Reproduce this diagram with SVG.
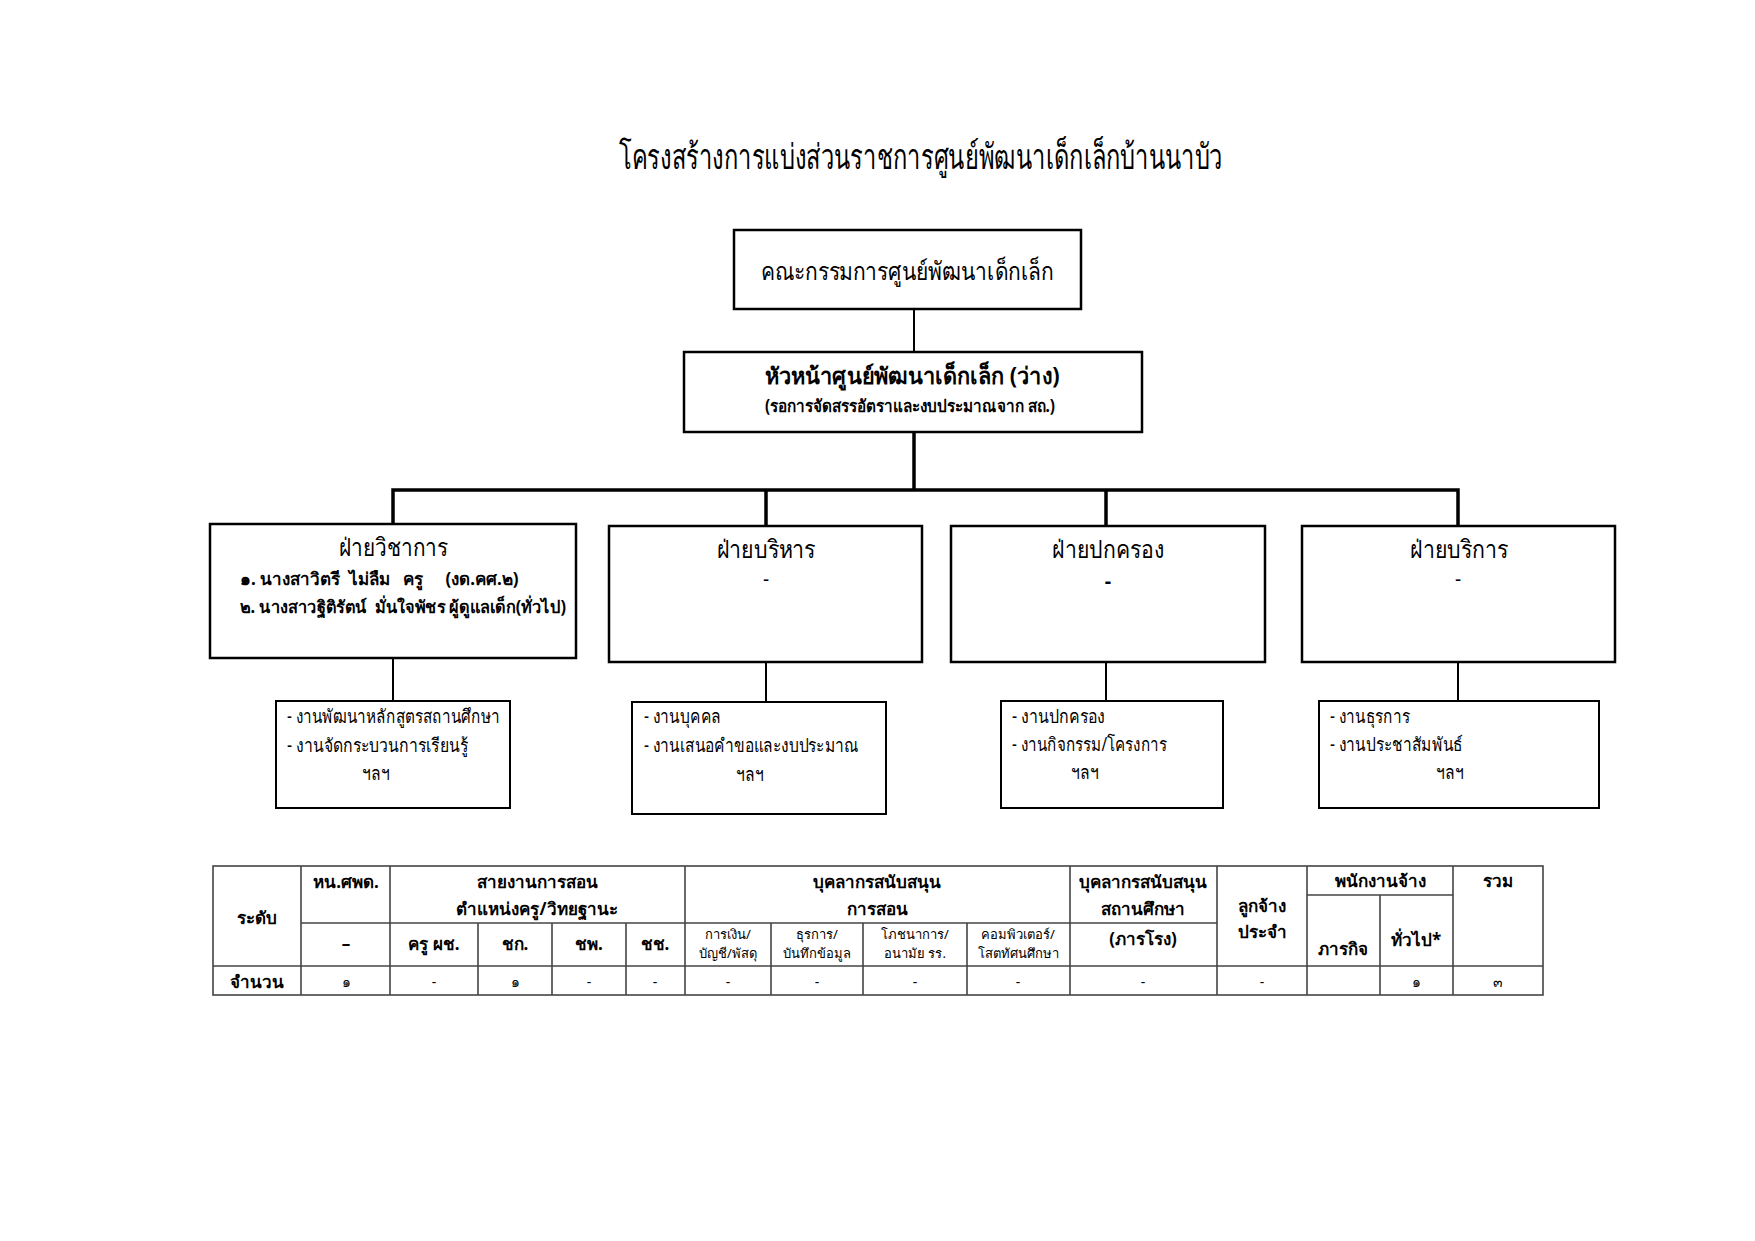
<svg xmlns="http://www.w3.org/2000/svg" width="1755" height="1241" viewBox="0 0 1755 1241">
<style>
text{font-family:"Noto Sans","DejaVu Sans",sans-serif;fill:#000}
.title{font-size:35px}
.h{font-size:25px}
.hb{font-size:23px;font-weight:bold}
.sb{font-size:17px;font-weight:bold}
.r{font-size:19px}
.t{font-size:17px;font-weight:bold}
.ts{font-size:13px}
.tn{font-size:14px}
.box{fill:#fff;stroke:#000;stroke-width:2.5}
.sub{fill:#fff;stroke:#000;stroke-width:2}
.con{stroke:#000;stroke-width:2;fill:none}
.bus{stroke:#000;stroke-width:3.5;fill:none}
.grid{stroke:#444;stroke-width:1.6;fill:none}
</style>
<rect width="1755" height="1241" fill="#fff"/>
<text class="title" x="921" y="169" text-anchor="middle" textLength="604" lengthAdjust="spacingAndGlyphs">โครงสร้างการแบ่งส่วนราชการศูนย์พัฒนาเด็กเล็กบ้านนาบัว</text>
<g id="connectors">
<line class="con" x1="914" y1="309" x2="914" y2="352"/>
<line class="bus" x1="914" y1="432" x2="914" y2="490"/>
<polyline class="bus" points="393,524 393,490 1458,490 1458,526"/>
<line class="bus" x1="766" y1="490" x2="766" y2="526"/>
<line class="bus" x1="1106" y1="490" x2="1106" y2="526"/>
<line class="con" x1="393" y1="658" x2="393" y2="701"/>
<line class="con" x1="766" y1="662" x2="766" y2="702"/>
<line class="con" x1="1106" y1="662" x2="1106" y2="701"/>
<line class="con" x1="1458" y1="662" x2="1458" y2="701"/>
</g>
<g id="committee">
<rect class="box" x="734" y="230" width="347" height="79"/>
<text class="h" x="907" y="280" text-anchor="middle" textLength="293" lengthAdjust="spacingAndGlyphs">คณะกรรมการศูนย์พัฒนาเด็กเล็ก</text>
</g>
<g id="head">
<rect class="box" x="684" y="352" width="458" height="80"/>
<text class="hb" x="912" y="384" text-anchor="middle" textLength="295" lengthAdjust="spacingAndGlyphs">หัวหน้าศูนย์พัฒนาเด็กเล็ก (ว่าง)</text>
<text class="sb" x="910" y="412" text-anchor="middle" textLength="290" lengthAdjust="spacingAndGlyphs">(รอการจัดสรรอัตราและงบประมาณจาก สถ.)</text>
</g>
<g id="academic">
<rect class="box" x="210" y="524" width="366" height="134"/>
<text class="h" x="393" y="556" text-anchor="middle" textLength="109" lengthAdjust="spacingAndGlyphs">ฝ่ายวิชาการ</text>
<text class="t" x="240" y="585" xml:space="preserve">๑. นางสาวิตรี  ไม่ลืม   ครู     (งด.คศ.๒)</text>
<text class="t" x="240" y="613" xml:space="preserve" textLength="326" lengthAdjust="spacingAndGlyphs">๒. นางสาวฐิติรัตน์  มั่นใจพัชร ผู้ดูแลเด็ก(ทั่วไป)</text>
</g>
<g id="admin">
<rect class="box" x="609" y="526" width="313" height="136"/>
<text class="h" x="766" y="558" text-anchor="middle" textLength="99" lengthAdjust="spacingAndGlyphs">ฝ่ายบริหาร</text>
<text class="r" x="766" y="586" text-anchor="middle">-</text>
</g>
<g id="governance">
<rect class="box" x="951" y="526" width="314" height="136"/>
<text class="h" x="1108" y="558" text-anchor="middle" textLength="112" lengthAdjust="spacingAndGlyphs">ฝ่ายปกครอง</text>
<text class="t" x="1108" y="588" text-anchor="middle" style="font-size:20px">-</text>
</g>
<g id="service">
<rect class="box" x="1302" y="526" width="313" height="136"/>
<text class="h" x="1459" y="558" text-anchor="middle" textLength="98" lengthAdjust="spacingAndGlyphs">ฝ่ายบริการ</text>
<text class="r" x="1458" y="586" text-anchor="middle">-</text>
</g>
<g id="academic-tasks">
<rect class="sub" x="276" y="701" width="234" height="107"/>
<text class="r" x="287" y="723" textLength="213" lengthAdjust="spacingAndGlyphs">- งานพัฒนาหลักสูตรสถานศึกษา</text>
<text class="r" x="287" y="752" textLength="181" lengthAdjust="spacingAndGlyphs">- งานจัดกระบวนการเรียนรู้</text>
<text class="r" x="376" y="780" text-anchor="middle" textLength="28" lengthAdjust="spacingAndGlyphs">ฯลฯ</text>
</g>
<g id="admin-tasks">
<rect class="sub" x="632" y="702" width="254" height="112"/>
<text class="r" x="644" y="723" textLength="77" lengthAdjust="spacingAndGlyphs">- งานบุคคล</text>
<text class="r" x="644" y="752" textLength="215" lengthAdjust="spacingAndGlyphs">- งานเสนอคำขอและงบประมาณ</text>
<text class="r" x="750" y="781" text-anchor="middle" textLength="28" lengthAdjust="spacingAndGlyphs">ฯลฯ</text>
</g>
<g id="governance-tasks">
<rect class="sub" x="1001" y="701" width="222" height="107"/>
<text class="r" x="1012" y="723" textLength="93" lengthAdjust="spacingAndGlyphs">- งานปกครอง</text>
<text class="r" x="1012" y="751" textLength="155" lengthAdjust="spacingAndGlyphs">- งานกิจกรรม/โครงการ</text>
<text class="r" x="1085" y="779" text-anchor="middle" textLength="28" lengthAdjust="spacingAndGlyphs">ฯลฯ</text>
</g>
<g id="service-tasks">
<rect class="sub" x="1319" y="701" width="280" height="107"/>
<text class="r" x="1330" y="723" textLength="80" lengthAdjust="spacingAndGlyphs">- งานธุรการ</text>
<text class="r" x="1330" y="751" textLength="133" lengthAdjust="spacingAndGlyphs">- งานประชาสัมพันธ์</text>
<text class="r" x="1450" y="779" text-anchor="middle" textLength="28" lengthAdjust="spacingAndGlyphs">ฯลฯ</text>
</g>
<g id="table">
<rect class="grid" x="213" y="866" width="1330" height="129"/>
<line class="grid" x1="213" y1="966" x2="1543" y2="966"/>
<line class="grid" x1="301" y1="923" x2="1217" y2="923"/>
<line class="grid" x1="1307" y1="895" x2="1453" y2="895"/>
<line class="grid" x1="301" y1="866" x2="301" y2="995"/>
<line class="grid" x1="390" y1="866" x2="390" y2="995"/>
<line class="grid" x1="478" y1="923" x2="478" y2="995"/>
<line class="grid" x1="552" y1="923" x2="552" y2="995"/>
<line class="grid" x1="626" y1="923" x2="626" y2="995"/>
<line class="grid" x1="685" y1="866" x2="685" y2="995"/>
<line class="grid" x1="771" y1="923" x2="771" y2="995"/>
<line class="grid" x1="863" y1="923" x2="863" y2="995"/>
<line class="grid" x1="967" y1="923" x2="967" y2="995"/>
<line class="grid" x1="1070" y1="866" x2="1070" y2="995"/>
<line class="grid" x1="1217" y1="866" x2="1217" y2="995"/>
<line class="grid" x1="1307" y1="866" x2="1307" y2="995"/>
<line class="grid" x1="1380" y1="895" x2="1380" y2="995"/>
<line class="grid" x1="1453" y1="866" x2="1453" y2="995"/>
<g text-anchor="middle">
<text class="t" x="257" y="924">ระดับ</text>
<text class="t" x="346" y="888">หน.ศพด.</text>
<text class="t" x="537" y="888">สายงานการสอน</text>
<text class="t" x="537" y="915">ตำแหน่งครู/วิทยฐานะ</text>
<text class="t" x="346" y="950">–</text>
<text class="t" x="434" y="950">ครู ผช.</text>
<text class="t" x="515" y="950">ชก.</text>
<text class="t" x="589" y="950">ชพ.</text>
<text class="t" x="655" y="950">ชช.</text>
<text class="t" x="877" y="888">บุคลากรสนับสนุน</text>
<text class="t" x="877" y="915">การสอน</text>
<text class="ts" x="728" y="939">การเงิน/</text>
<text class="ts" x="728" y="958">บัญชี/พัสดุ</text>
<text class="ts" x="817" y="939">ธุรการ/</text>
<text class="ts" x="817" y="958">บันทึกข้อมูล</text>
<text class="ts" x="915" y="939">โภชนาการ/</text>
<text class="ts" x="915" y="958">อนามัย รร.</text>
<text class="ts" x="1018" y="939">คอมพิวเตอร์/</text>
<text class="ts" x="1018" y="958">โสตทัศนศึกษา</text>
<text class="t" x="1143" y="888">บุคลากรสนับสนุน</text>
<text class="t" x="1143" y="915">สถานศึกษา</text>
<text class="t" x="1143" y="945">(ภารโรง)</text>
<text class="t" x="1262" y="912">ลูกจ้าง</text>
<text class="t" x="1262" y="938">ประจำ</text>
<text class="t" x="1380" y="887">พนักงานจ้าง</text>
<text class="t" x="1343" y="955">ภารกิจ</text>
<text class="t" x="1416" y="946">ทั่วไป*</text>
<text class="t" x="1498" y="887">รวม</text>
<text class="t" x="257" y="988">จำนวน</text>
<text class="tn" x="346" y="987">๑</text>
<text class="tn" x="434" y="987">-</text>
<text class="tn" x="515" y="987">๑</text>
<text class="tn" x="589" y="987">-</text>
<text class="tn" x="655" y="987">-</text>
<text class="tn" x="728" y="987">-</text>
<text class="tn" x="817" y="987">-</text>
<text class="tn" x="915" y="987">-</text>
<text class="tn" x="1018" y="987">-</text>
<text class="tn" x="1143" y="987">-</text>
<text class="tn" x="1262" y="987">-</text>
<text class="tn" x="1416" y="987">๑</text>
<text class="tn" x="1498" y="987">๓</text>
</g>
</g>
</svg>
